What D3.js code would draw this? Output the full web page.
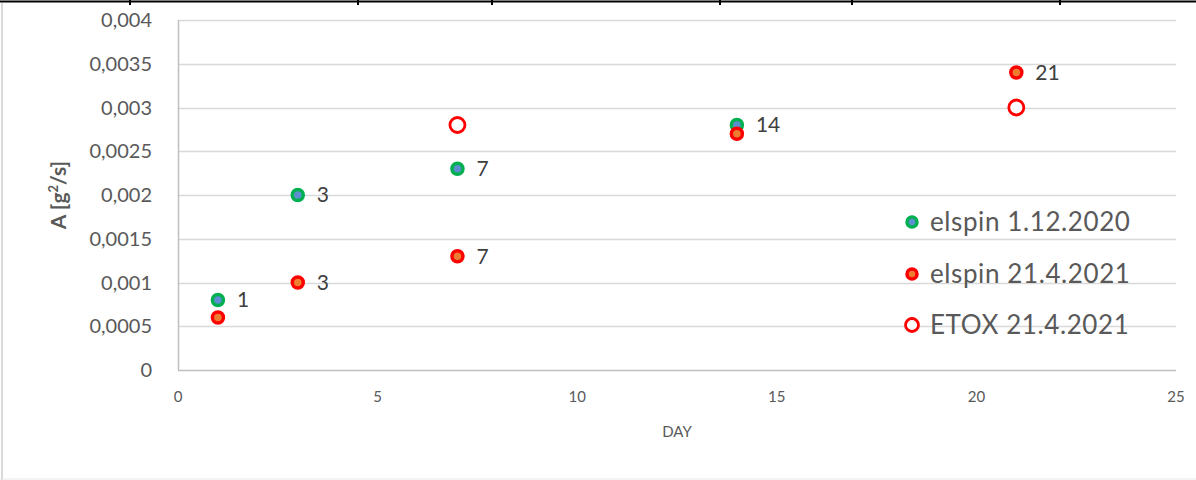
<!DOCTYPE html>
<html><head><meta charset="utf-8">
<script src="https://cdn.jsdelivr.net/npm/d3@7"></script>
<style>body{margin:0;background:#fff}svg{display:block}text{font-family:Lato,"Open Sans",sans-serif}</style>
</head><body><svg id="c" width="1196" height="480"></svg>
<script>
const xTicks=[0,5,10,15,20,25];
const yTicks=[0,0.0005,0.001,0.0015,0.002,0.0025,0.003,0.0035,0.004];
const yTickLabels=["0","0,0005","0,001","0,0015","0,002","0,0025","0,003","0,0035","0,004"];
const seriesNames=["elspin 1.12.2020","elspin 21.4.2021","ETOX 21.4.2021"];
const greenX=[1,3,7,14];
const greenY=[0.0008,0.002,0.0023,0.0028];
const greenLabels=["1","3","7","14"];
const redX=[1,3,7,14,21];
const redY=[0.0006,0.001,0.0013,0.0027,0.0034];
const redLabels=["","3","7","","21"];
const etoxX=[7,21];
const etoxY=[0.0028,0.003];
const topMarks=[130,358,492,720,852,1060];

const svg=d3.select("#c");
const x=d3.scaleLinear().domain([0,25]).range([178,1176]);
const y=d3.scaleLinear().domain([0,0.004]).range([370,20]);

// frame
svg.append("line").attr("x1",0).attr("x2",1196).attr("y1",1.5).attr("y2",1.5).attr("stroke","#000").attr("stroke-width",2);
svg.selectAll(".tm").data(topMarks).join("line").attr("x1",d=>d).attr("x2",d=>d).attr("y1",0).attr("y2",5).attr("stroke","#000").attr("stroke-width",2);
svg.append("line").attr("x1",2).attr("x2",2).attr("y1",3).attr("y2",480).attr("stroke","#d9d9d9").attr("stroke-width",2);
svg.append("line").attr("x1",0).attr("x2",1196).attr("y1",479).attr("y2",479).attr("stroke","#e6e6e6").attr("stroke-width",1);

// gridlines
svg.append("g").selectAll("line").data(yTicks.slice(1)).join("line")
 .attr("x1",x(0)).attr("x2",x(25)).attr("y1",d=>Math.round(y(d))+0.5).attr("y2",d=>Math.round(y(d))+0.5)
 .attr("stroke","#d9d9d9").attr("stroke-width",1.5);
// axes lines
svg.append("line").attr("x1",x(0)).attr("x2",x(25)).attr("y1",y(0)+0.5).attr("y2",y(0)+0.5).attr("stroke","#bfbfbf").attr("stroke-width",1.5);
svg.append("line").attr("x1",x(0)+0.5).attr("x2",x(0)+0.5).attr("y1",y(0.004)).attr("y2",y(0)).attr("stroke","#bfbfbf").attr("stroke-width",1.5);

// y tick labels
svg.append("g").selectAll("text").data(yTicks).join("text")
 .attr("x",152).attr("y",d=>y(d)).attr("dy","0.35em").attr("text-anchor","end")
 .attr("font-size",20).attr("fill","#595959").text((d,i)=>yTickLabels[i]);
// x tick labels
svg.append("g").selectAll("text").data(xTicks).join("text")
 .attr("x",d=>x(d)).attr("y",397).attr("dy","0.35em").attr("text-anchor","middle")
 .attr("font-size",15).attr("fill","#595959").text(d=>d);
// axis titles
svg.append("text").attr("x",677).attr("y",432).attr("dy","0.35em").attr("text-anchor","middle")
 .attr("font-size",15).attr("fill","#595959").text("DAY");
const yt=svg.append("text").attr("transform","translate(66,195) rotate(-90)").attr("text-anchor","middle")
 .attr("font-size",21).attr("font-weight","bold").attr("fill","#595959");
yt.append("tspan").text("A [g");
yt.append("tspan").attr("font-size",13).attr("dy",-8).text("2");
yt.append("tspan").attr("dy",8).text("/s]");

// points
function dots(xs,ys,r,sw,stroke,fill){
 svg.append("g").selectAll("circle").data(xs).join("circle")
  .attr("cx",d=>x(d)).attr("cy",(d,i)=>y(ys[i])).attr("r",r)
  .attr("fill",fill).attr("stroke",stroke).attr("stroke-width",sw);
}
function labels(xs,ys,ls){
 svg.append("g").selectAll("text").data(xs).join("text")
  .attr("x",d=>x(d)+19).attr("y",(d,i)=>y(ys[i])).attr("dy","0.35em")
  .attr("font-size",21).attr("fill","#404040").text((d,i)=>ls[i]);
}
dots(greenX,greenY,5.5,3.5,"#00b050","#5b8fd0");
dots(redX,redY,5.5,3.5,"#ff0000","#ed7d31");
dots(etoxX,etoxY,7.5,2.8,"#ff0000","#fff");
labels(greenX,greenY,greenLabels);
labels(redX,redY,redLabels);

// legend
const lg=svg.append("g");
const ly=[222,274,325];
const lstyle=[{s:"#00b050",f:"#5b8fd0",r:5,w:3.5},{s:"#ff0000",f:"#ed7d31",r:5,w:3.5},{s:"#ff0000",f:"#fff",r:6.5,w:2.8}];
seriesNames.forEach((n,i)=>{
 lg.append("circle").attr("cx",912).attr("cy",ly[i]).attr("r",lstyle[i].r).attr("fill",lstyle[i].f).attr("stroke",lstyle[i].s).attr("stroke-width",lstyle[i].w);
 lg.append("text").attr("x",930).attr("y",ly[i]).attr("dy","0.35em").attr("font-size",26).attr("letter-spacing",0.6).attr("fill","#595959").text(n);
});
</script></body></html>
